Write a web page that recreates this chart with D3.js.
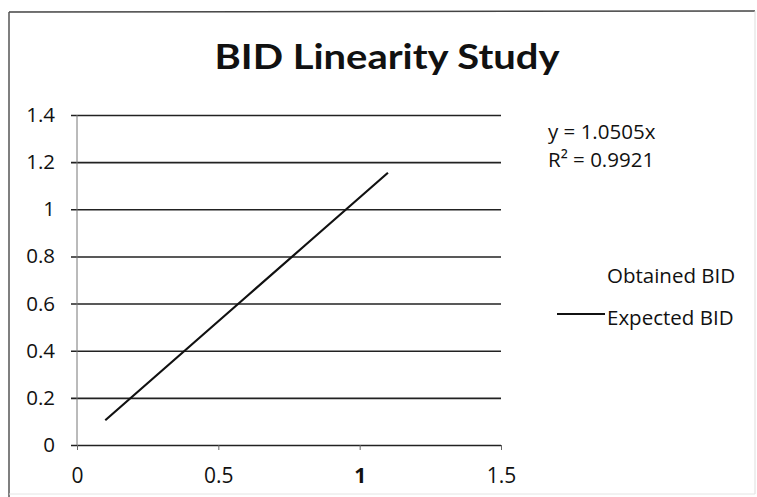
<!DOCTYPE html>
<html>
<head>
<meta charset="utf-8">
<script src="https://cdn.jsdelivr.net/npm/d3@7"></script>
<style>
  body { margin: 0; background: #fff; }
  svg { display: block; font-family: "Open Sans", Lato, sans-serif; }
</style>
</head>
<body>
<svg id="chart"></svg>
<script>
// values
const expectedX = [0.1, 0.2, 0.4, 0.6, 0.8, 1.0, 1.1];
const expectedY = [0.105, 0.21, 0.42, 0.63, 0.84, 1.05, 1.155];
const xTicks = [0, 0.5, 1, 1.5];
const yTicks = [0, 0.2, 0.4, 0.6, 0.8, 1, 1.2, 1.4];
const legendNames = ['Obtained BID', 'Expected BID'];
const trendText = ['y = 1.0505x', 'R² = 0.9921'];

const width = 757, height = 497;
const margin = { top: 115, right: 256, bottom: 52, left: 77 };

const svg = d3.select('#chart').attr('width', width).attr('height', height);

// outer chart frame (darker top/left like the scan)
svg.append('line').attr('x1', 9).attr('y1', 12).attr('x2', 755).attr('y2', 11)
  .attr('stroke', '#444').attr('stroke-width', 1.5);
svg.append('line').attr('x1', 9).attr('y1', 12).attr('x2', 9).attr('y2', 497)
  .attr('stroke', '#555').attr('stroke-width', 1.5);
svg.append('line').attr('x1', 755).attr('y1', 11).attr('x2', 755).attr('y2', 494)
  .attr('stroke', '#ddd').attr('stroke-width', 1);
svg.append('line').attr('x1', 9).attr('y1', 494).attr('x2', 755).attr('y2', 494)
  .attr('stroke', '#e4e4e4').attr('stroke-width', 1);

const x = d3.scaleLinear().domain([0, 1.5]).range([margin.left, width - margin.right]);
const y = d3.scaleLinear().domain([0, 1.4]).range([height - margin.bottom, margin.top]);

// title
svg.append('text')
  .attr('x', 387).attr('y', 69)
  .attr('text-anchor', 'middle')
  .attr('font-family', 'Lato, sans-serif')
  .attr('font-size', 34).attr('font-weight', 'bold')
  .attr('fill', '#111')
  .attr('textLength', 345).attr('lengthAdjust', 'spacingAndGlyphs')
  .text('BID Linearity Study');

// horizontal gridlines with outward ticks
const yAxis = svg.append('g')
  .attr('transform', `translate(${margin.left},0)`)
  .call(d3.axisLeft(y).tickValues(yTicks).tickSize(-(width - margin.right - margin.left)).tickSizeOuter(0).tickPadding(22).tickFormat(d3.format('')));
yAxis.select('.domain').remove();
yAxis.selectAll('.tick line')
  .attr('x1', -6)
  .attr('stroke', '#222').attr('stroke-width', 1.6);
yAxis.selectAll('.tick text')
  .attr('font-family', '"Open Sans", sans-serif').attr('font-size', 20.5).attr('fill', '#111');

// vertical y axis line
svg.append('line')
  .attr('x1', margin.left).attr('x2', margin.left)
  .attr('y1', y(1.4)).attr('y2', y(0))
  .attr('stroke', '#777').attr('stroke-width', 1);

// x axis
const xAxis = svg.append('g')
  .attr('transform', `translate(0,${y(0)})`)
  .call(d3.axisBottom(x).tickValues(xTicks).tickSize(5).tickSizeOuter(0).tickPadding(18).tickFormat(d3.format('')));
xAxis.select('.domain').remove();
xAxis.selectAll('.tick line').attr('stroke', '#666').attr('stroke-width', 1);
xAxis.selectAll('.tick text')
  .attr('font-family', '"Open Sans", sans-serif').attr('font-size', 21).attr('fill', '#111')
  .attr('font-weight', d => d === 1 ? 'bold' : 'normal');

// expected BID line
const line = d3.line().x((d, i) => x(expectedX[i])).y(d => y(d));
svg.append('path')
  .datum(expectedY)
  .attr('d', line)
  .attr('fill', 'none')
  .attr('stroke', '#111')
  .attr('stroke-width', 2.2);

// trendline label
svg.selectAll('.trend')
  .data(trendText)
  .enter()
  .append('text')
  .attr('class', 'trend')
  .attr('x', 548)
  .attr('y', (d, i) => 139 + i * 28)
  .attr('font-size', 20.5).attr('fill', '#111')
  .text(d => d);

// legend
const legendY = [283, 325];
svg.selectAll('.legend-text')
  .data(legendNames)
  .enter()
  .append('text')
  .attr('class', 'legend-text')
  .attr('x', 607)
  .attr('y', (d, i) => legendY[i])
  .attr('font-size', 20.5).attr('fill', '#111')
  .text(d => d);

svg.append('line')
  .attr('x1', 557).attr('x2', 605)
  .attr('y1', legendY[1] - 11).attr('y2', legendY[1] - 11)
  .attr('stroke', '#111').attr('stroke-width', 2);
</script>
</body>
</html>
